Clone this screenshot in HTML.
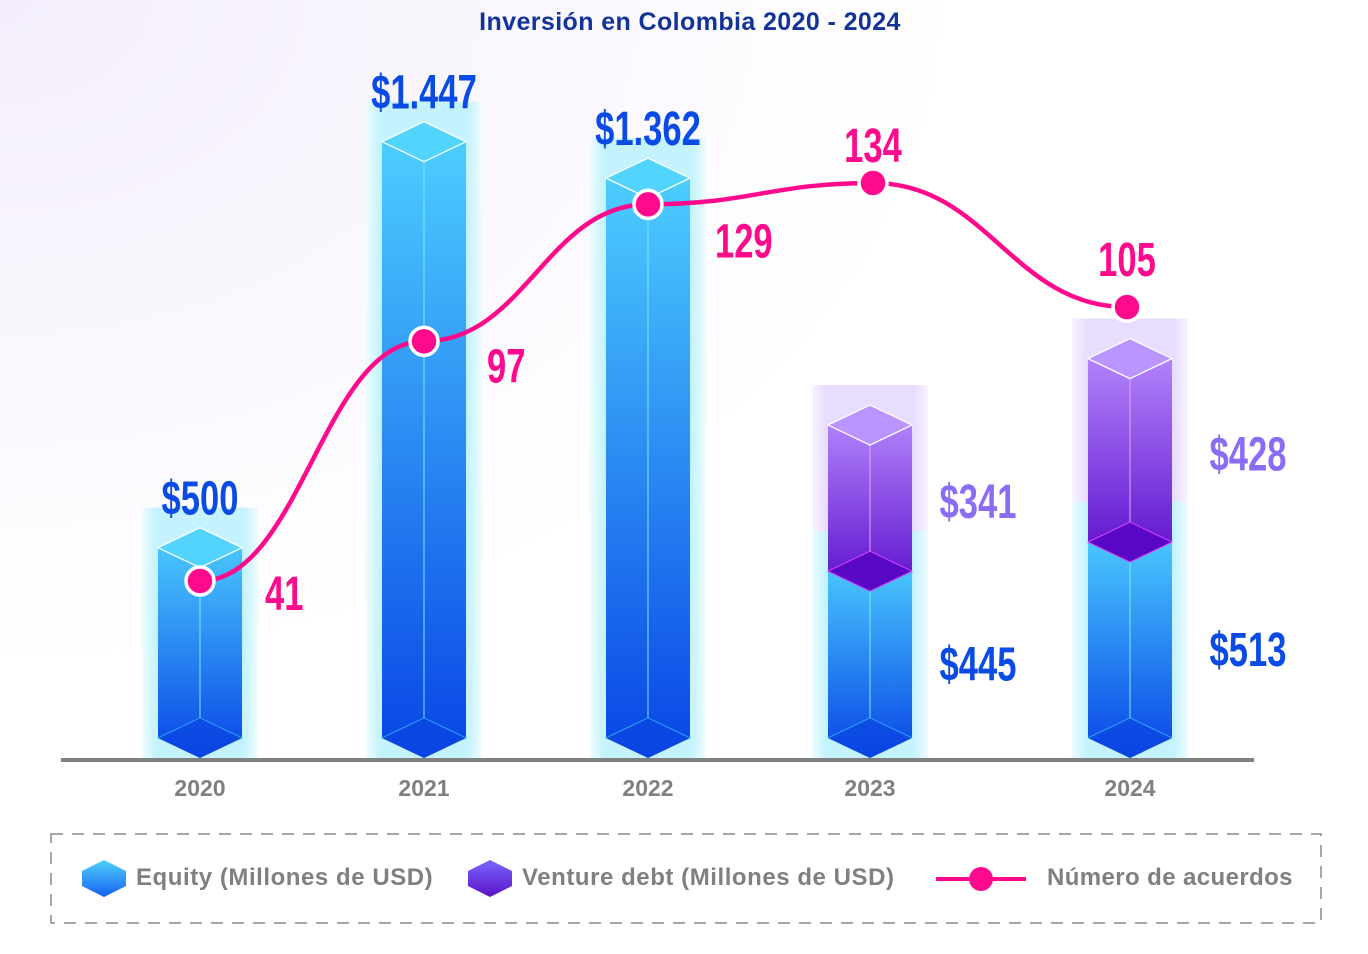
<!DOCTYPE html>
<html><head><meta charset="utf-8"><style>
body{margin:0;background:#fff}
svg{display:block;font-family:"Liberation Sans",sans-serif}
.big{font-family:"Liberation Sans Narrow","Liberation Sans",sans-serif;font-weight:bold}
</style></head><body>
<svg id="chart" width="1368" height="954" viewBox="0 0 1368 954">
<defs>
<radialGradient id="bgG" cx="0" cy="0" r="0.7"><stop offset="0" stop-color="#f4eefc"/><stop offset="1" stop-color="#fff"/></radialGradient>
<linearGradient id="eqG" x1="0" y1="0" x2="0" y2="1"><stop offset="0" stop-color="#4fd2ff"/><stop offset="1" stop-color="#0844e6"/></linearGradient>
<linearGradient id="vdG" x1="0" y1="0" x2="0" y2="1"><stop offset="0" stop-color="#b98eff"/><stop offset="1" stop-color="#5c0fcb"/></linearGradient>
<linearGradient id="glowC" x1="0" y1="0" x2="1" y2="0"><stop offset="0" stop-color="#eefcff"/><stop offset="0.12" stop-color="#c4f3ff"/><stop offset="0.88" stop-color="#c4f3ff"/><stop offset="1" stop-color="#eefcff"/></linearGradient>
<linearGradient id="glowP" x1="0" y1="0" x2="1" y2="0"><stop offset="0" stop-color="#f8f4ff"/><stop offset="0.12" stop-color="#e8dcff"/><stop offset="0.88" stop-color="#e8dcff"/><stop offset="1" stop-color="#f8f4ff"/></linearGradient>
<linearGradient id="legEq" x1="0" y1="0" x2="0" y2="1"><stop offset="0" stop-color="#4fd2ff"/><stop offset="1" stop-color="#1660f0"/></linearGradient>
<linearGradient id="legVd" x1="0" y1="0" x2="0" y2="1"><stop offset="0" stop-color="#7a66ff"/><stop offset="1" stop-color="#5a12c4"/></linearGradient>
</defs>
<rect width="1368" height="954" fill="url(#bgG)"/>
<text x="690" y="30" text-anchor="middle" font-size="25" font-weight="bold" fill="#14339a" letter-spacing="0.4">Inversión en Colombia 2020 - 2024</text>
<g id="bars"></g>
<line x1="61" y1="760" x2="1254" y2="760" stroke="#808080" stroke-width="4"/>
<g id="xlabels"></g>
<g id="line"></g>
<g>
<rect x="51" y="834" width="1270" height="89" fill="none" stroke="#888" stroke-width="1.5" stroke-dasharray="12,9"/>
<g>
<polygon points="82,871 104,860 126,871 126,886 104,897 82,886" fill="url(#legEq)"/>
<text x="136" y="885" font-size="24" font-weight="bold" fill="#808080" letter-spacing="0.55">Equity (Millones de USD)</text></g>
<g>
<polygon points="468,871 490,860 512,871 512,886 490,897 468,886" fill="url(#legVd)"/>
<text x="522" y="885" font-size="24" font-weight="bold" fill="#808080" letter-spacing="0.55">Venture debt (Millones de USD)</text></g>
<g>
<line x1="936" y1="879" x2="1026" y2="879" stroke="#ff0a8c" stroke-width="4"/>
<circle cx="981" cy="879" r="12" fill="#ff0a8c"/>
<text x="1047" y="885" font-size="24" font-weight="bold" fill="#808080" letter-spacing="0.4">Número de acuerdos</text></g>
</g>
</svg>
<script>
const years=["2020","2021","2022","2023","2024"];
const equity=[500,1447,1362,445,513];
const ventureDebt=[0,0,0,341,428];
const equityLabels=["$500","$1.447","$1.362","$445","$513"];
const debtLabels=["","","","$341","$428"];
const deals=[41,97,129,134,105];
const NS="http://www.w3.org/2000/svg";
const xs=[200,424,648,870,1130];
const base=738;
const yV=v=>base-(v*0.4287-24);
const yD=d=>581-(d-41)*4.28;
function mk(tag,attrs,parent){const e=document.createElementNS(NS,tag);for(const k in attrs)e.setAttribute(k,attrs[k]);parent.appendChild(e);return e;}
const SX=0.72;
const bars=document.getElementById('bars');
years.forEach((y,i)=>{
  const cx=xs[i],w=42;
  const yE=yV(equity[i]),yT=yV(equity[i]+ventureDebt[i]);
  const g=mk('g',{},bars);
  
  
  const stacked=ventureDebt[i]>0;
  const gl=mk('rect',{x:cx-58,y:yE-40,width:116,height:base+20-(yE-40),fill:'url(#glowC)'},g);
  
  
  if(stacked){const gp=mk('rect',{x:cx-58,y:yT-40,width:116,height:yE-yT,fill:'url(#glowP)'},g);
    
    }
  const eq=mk('polygon',{points:`${cx-w},${yE} ${cx},${yE-20} ${cx+w},${yE} ${cx+w},${base} ${cx},${base+20} ${cx-w},${base}`,fill:'url(#eqG)'},g);
  
  
  mk('polyline',{points:`${cx-w},${base} ${cx},${base-20} ${cx+w},${base}`,fill:'none',stroke:'#3ac8ff','stroke-width':1},g);
  mk('polygon',{points:`${cx-w},${base} ${cx},${base-20} ${cx+w},${base} ${cx},${base+20}`,fill:'#0a45e0',opacity:0.6},g);
  mk('line',{x1:cx,y1:yE+20,x2:cx,y2:base-20,stroke:'#7ee8ff','stroke-width':1},g);
  if(!stacked){
    mk('polygon',{points:`${cx-w},${yE} ${cx},${yE-20} ${cx+w},${yE} ${cx},${yE+20}`,fill:'#52d4fc',stroke:'#fff','stroke-width':1.3},g);
    const t=mk('text',{x:cx,y:yE-33,'text-anchor':'middle','font-size':48,fill:'#0a4be6',class:'big',transform:`translate(${cx},0) scale(${SX},1) translate(${-cx},0)`},g);
    t.textContent=equityLabels[i];
    
    
  }else{
    const vd=mk('polygon',{points:`${cx-w},${yT} ${cx},${yT-20} ${cx+w},${yT} ${cx+w},${yE} ${cx},${yE+20} ${cx-w},${yE}`,fill:'url(#vdG)'},g);
    
    
    mk('polygon',{points:`${cx-w},${yE} ${cx},${yE-20} ${cx+w},${yE} ${cx},${yE+20}`,fill:'#5808c4',stroke:'#e040ff','stroke-width':1},g);
    mk('line',{x1:cx,y1:yT+20,x2:cx,y2:yE-20,stroke:'#f0a0ff','stroke-width':1},g);
    mk('polygon',{points:`${cx-w},${yT} ${cx},${yT-20} ${cx+w},${yT} ${cx},${yT+20}`,fill:'#b895ff',stroke:'#fff','stroke-width':1.3},g);
    const lx=cx+(i===4?118:108);
    const t1=mk('text',{x:lx,y:(yE+base)/2+26,'text-anchor':'middle','font-size':48,fill:'#0a4be6',class:'big',transform:`translate(${lx},0) scale(${SX},1) translate(${-lx},0)`},g);
    t1.textContent=equityLabels[i];
    
    
    const t2=mk('text',{x:lx,y:(yT+yE)/2+20,'text-anchor':'middle','font-size':48,fill:'#8a6cf6',class:'big',transform:`translate(${lx},0) scale(${SX},1) translate(${-lx},0)`},g);
    t2.textContent=debtLabels[i];
    
    
  }
});
const xl=document.getElementById('xlabels');
years.forEach((y,i)=>{const t=mk('text',{x:xs[i],y:796,'text-anchor':'middle','font-size':23,'font-weight':'bold',fill:'#808080'},xl);
  t.textContent=y;
  
  });
const lg=document.getElementById('line');
const lxs=[200,424,648,873,1127];
const pts=deals.map((d,i)=>[lxs[i],yD(d)]);
let dpath=`M${pts[0][0]},${pts[0][1]}`;
for(let i=0;i<pts.length-1;i++){
  const p1=pts[i],p2=pts[i+1];const dx=p2[0]-p1[0];
  dpath+=` C${p1[0]+dx*0.45},${p1[1]} ${p2[0]-dx*0.45},${p2[1]} ${p2[0]},${p2[1]}`;
}
const path=mk('path',{d:dpath,fill:'none',stroke:'#ff0a8c','stroke-width':4.5},lg);


const lblOff=[[65,29,'start'],[63,41,'start'],[67,53,'start'],[0,-21,'middle'],[0,-31,'middle']];
pts.forEach((p,i)=>{
  const c=mk('circle',{cx:p[0],cy:p[1],r:14,fill:'#ff0a8c',stroke:'#fff','stroke-width':3.5},lg);
  
  
  const o=lblOff[i];const x=p[0]+o[0];
  const t=mk('text',{x:x,y:p[1]+o[1],'text-anchor':o[2],'font-size':48,fill:'#ff0a8c',class:'big',transform:`translate(${x},0) scale(${SX},1) translate(${-x},0)`},lg);
  t.textContent=deals[i];
  
  
});
</script>
</body></html>
